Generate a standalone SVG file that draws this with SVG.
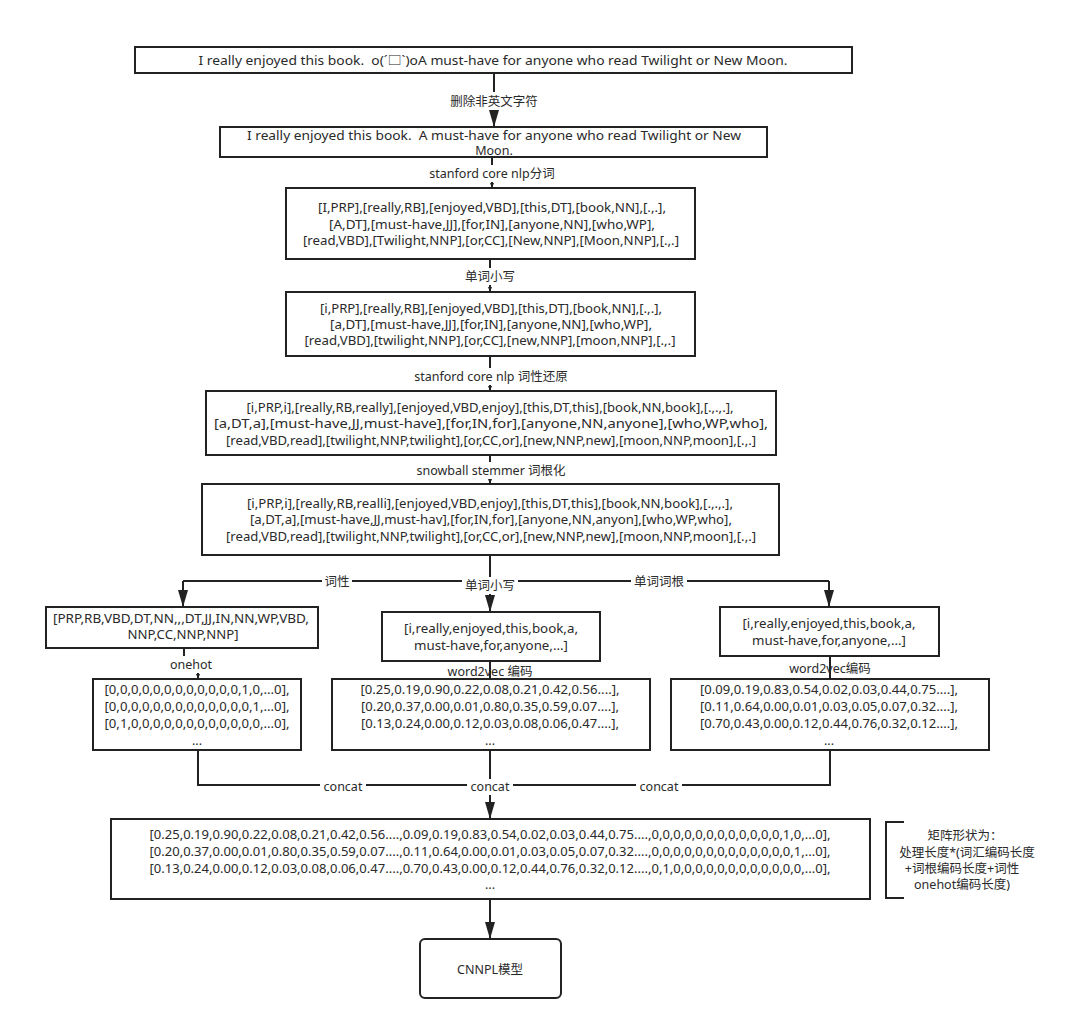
<svg xmlns="http://www.w3.org/2000/svg" width="1079" height="1031" viewBox="0 0 1079 1031">
<style>
.b{fill:#fff;stroke:#222;stroke-width:2}
.t{font-family:"Noto Sans","Noto Sans CJK SC",sans-serif;font-size:12.5px;fill:#2a2a2a;text-anchor:middle;white-space:pre}
.l{fill:#fff}
.c{fill:none;stroke:#222;stroke-width:2}
.n{font-family:"Noto Sans","Noto Sans CJK SC",sans-serif;font-size:12.5px;fill:#2a2a2a;text-anchor:middle}
</style>
<defs>
<marker id="a" viewBox="0 0 17 10" refX="17" refY="5" markerWidth="17" markerHeight="10" markerUnits="userSpaceOnUse" orient="auto"><path d="M0,0L17,5L0,10z" fill="#222"/></marker>
<marker id="s" viewBox="0 0 5 4" refX="5" refY="2" markerWidth="5" markerHeight="4" markerUnits="userSpaceOnUse" orient="auto"><path d="M0,0L5,2L0,4z" fill="#222"/></marker>
</defs>
<rect width="1079" height="1031" fill="#fff"/>
<g id="connectors">
<path class="c" d="M494,73V127" marker-end="url(#a)"/>
<path class="c" d="M492,157V188" marker-end="url(#s)"/>
<path class="c" d="M490,259V292" marker-end="url(#s)"/>
<path class="c" d="M490,356V391" marker-end="url(#s)"/>
<path class="c" d="M490,455V484" marker-end="url(#s)"/>
<path class="c" d="M490,555V581M183,581H829"/>
<path class="c" d="M183,581V607" marker-end="url(#a)"/>
<path class="c" d="M490,581V612" marker-end="url(#a)"/>
<path class="c" d="M829,581V607" marker-end="url(#a)"/>
<path class="c" d="M184,648V664H198V679" marker-end="url(#s)"/>
<path class="c" d="M490,661V679"/>
<path class="c" d="M830,656V679"/>
<path class="c" d="M198,750V785H830V750M490,750V819" marker-end="url(#a)"/>
<path class="c" d="M490,899V939" marker-end="url(#a)"/>
<path class="c" d="M904,822H886V898H904"/>
</g>
<g id="labels">
<rect class="l" x="444" y="92" width="100" height="18"/><text class="n" x="494" y="106">删除非英文字符</text>
<rect class="l" x="422" y="165" width="140" height="17"/><text class="n" x="492" y="178">stanford core nlp分词</text>
<rect class="l" x="462" y="268" width="56" height="17"/><text class="n" x="490" y="281">单词小写</text>
<rect class="l" x="406" y="368" width="170" height="17"/><text class="n" x="491" y="381">stanford core nlp 词性还原</text>
<rect class="l" x="412" y="462" width="158" height="17"/><text class="n" x="491" y="475">snowball stemmer 词根化</text>
<rect class="l" x="322" y="573" width="30" height="17"/><text class="n" x="337" y="586">词性</text>
<rect class="l" x="462" y="577" width="56" height="17"/><text class="n" x="490" y="590">单词小写</text>
<rect class="l" x="631" y="573" width="56" height="17"/><text class="n" x="659" y="586">单词词根</text>
<rect class="l" x="165" y="656" width="52" height="17"/><text class="n" x="191" y="669">onehot</text>
<text class="n" x="490" y="676">word2vec 编码</text>
<text class="n" x="830" y="673">word2vec编码</text>
<rect class="l" x="320" y="779" width="46" height="16"/><text class="n" x="343" y="791">concat</text>
<rect class="l" x="467" y="779" width="46" height="16"/><text class="n" x="490" y="791">concat</text>
<rect class="l" x="636" y="779" width="46" height="16"/><text class="n" x="659" y="791">concat</text>
</g>
<g id="n1"><rect class="b" x="135" y="47" width="717" height="26"/><text class="t" x="493" y="65" textLength="589" lengthAdjust="spacingAndGlyphs" xml:space="preserve">I really enjoyed this book.  o(ˊ□ˋ)oA must-have for anyone who read Twilight or New Moon.</text></g>
<g id="n2"><rect class="b" x="220" y="127" width="547" height="30"/><text class="t" x="494" y="140" textLength="494" lengthAdjust="spacingAndGlyphs" xml:space="preserve">I really enjoyed this book.  A must-have for anyone who read Twilight or New</text><text class="t" x="494" y="155">Moon.</text></g>
<g id="n3"><rect class="b" x="286" y="188" width="409" height="71"/>
<text class="t" x="492" y="212" textLength="348" lengthAdjust="spacingAndGlyphs">[I,PRP],[really,RB],[enjoyed,VBD],[this,DT],[book,NN],[.,.],</text>
<text class="t" x="492" y="229" textLength="326" lengthAdjust="spacingAndGlyphs">[A,DT],[must-have,JJ],[for,IN],[anyone,NN],[who,WP],</text>
<text class="t" x="491" y="245" textLength="376" lengthAdjust="spacingAndGlyphs">[read,VBD],[Twilight,NNP],[or,CC],[New,NNP],[Moon,NNP],[.,.]</text></g>
<g id="n4"><rect class="b" x="286" y="292" width="409" height="64"/>
<text class="t" x="491" y="313" textLength="342" lengthAdjust="spacingAndGlyphs">[i,PRP],[really,RB],[enjoyed,VBD],[this,DT],[book,NN],[.,.],</text>
<text class="t" x="491" y="329" textLength="322" lengthAdjust="spacingAndGlyphs">[a,DT],[must-have,JJ],[for,IN],[anyone,NN],[who,WP],</text>
<text class="t" x="490" y="345" textLength="371" lengthAdjust="spacingAndGlyphs">[read,VBD],[twilight,NNP],[or,CC],[new,NNP],[moon,NNP],[.,.]</text></g>
<g id="n5"><rect class="b" x="206" y="391" width="570" height="64"/>
<text class="t" x="490" y="412" textLength="487" lengthAdjust="spacingAndGlyphs">[i,PRP,i],[really,RB,really],[enjoyed,VBD,enjoy],[this,DT,this],[book,NN,book],[.,.,.],</text>
<text class="t" x="491" y="428" textLength="554" lengthAdjust="spacingAndGlyphs">[a,DT,a],[must-have,JJ,must-have],[for,IN,for],[anyone,NN,anyone],[who,WP,who],</text>
<text class="t" x="491" y="445" textLength="530" lengthAdjust="spacingAndGlyphs">[read,VBD,read],[twilight,NNP,twilight],[or,CC,or],[new,NNP,new],[moon,NNP,moon],[.,.]</text></g>
<g id="n6"><rect class="b" x="202" y="484" width="577" height="71"/>
<text class="t" x="490" y="508" textLength="486" lengthAdjust="spacingAndGlyphs">[i,PRP,i],[really,RB,realli],[enjoyed,VBD,enjoy],[this,DT,this],[book,NN,book],[.,.,.],</text>
<text class="t" x="491" y="524" textLength="482" lengthAdjust="spacingAndGlyphs">[a,DT,a],[must-have,JJ,must-hav],[for,IN,for],[anyone,NN,anyon],[who,WP,who],</text>
<text class="t" x="491" y="541" textLength="530" lengthAdjust="spacingAndGlyphs">[read,VBD,read],[twilight,NNP,twilight],[or,CC,or],[new,NNP,new],[moon,NNP,moon],[.,.]</text></g>
<g id="nA"><rect class="b" x="46" y="607" width="272" height="41"/>
<text class="t" x="181" y="623" textLength="256" lengthAdjust="spacingAndGlyphs">[PRP,RB,VBD,DT,NN,,,DT,JJ,IN,NN,WP,VBD,</text>
<text class="t" x="183" y="639" textLength="111" lengthAdjust="spacingAndGlyphs">NNP,CC,NNP,NNP]</text></g>
<g id="nB"><rect class="b" x="382" y="612" width="218" height="49"/>
<text class="t" x="491" y="633" textLength="174" lengthAdjust="spacingAndGlyphs">[i,really,enjoyed,this,book,a,</text>
<text class="t" x="491" y="650" textLength="154" lengthAdjust="spacingAndGlyphs">must-have,for,anyone,...]</text></g>
<g id="nC"><rect class="b" x="720" y="607" width="219" height="49"/>
<text class="t" x="829" y="628" textLength="173" lengthAdjust="spacingAndGlyphs">[i,really,enjoyed,this,book,a,</text>
<text class="t" x="829" y="645" textLength="154" lengthAdjust="spacingAndGlyphs">must-have,for,anyone,...]</text></g>
<g id="nD"><rect class="b" x="93" y="679" width="208" height="71"/>
<text class="t" x="197" y="694" textLength="185" lengthAdjust="spacingAndGlyphs">[0,0,0,0,0,0,0,0,0,0,0,0,1,0,...0],</text>
<text class="t" x="197" y="711" textLength="185" lengthAdjust="spacingAndGlyphs">[0,0,0,0,0,0,0,0,0,0,0,0,0,1,...0],</text>
<text class="t" x="197" y="728" textLength="185" lengthAdjust="spacingAndGlyphs">[0,1,0,0,0,0,0,0,0,0,0,0,0,0,...0],</text>
<text class="t" x="197" y="745">...</text></g>
<g id="nE"><rect class="b" x="332" y="679" width="318" height="71"/>
<text class="t" x="490" y="694" textLength="259" lengthAdjust="spacingAndGlyphs">[0.25,0.19,0.90,0.22,0.08,0.21,0.42,0.56....],</text>
<text class="t" x="490" y="711" textLength="258" lengthAdjust="spacingAndGlyphs">[0.20,0.37,0.00,0.01,0.80,0.35,0.59,0.07....],</text>
<text class="t" x="490" y="728" textLength="258" lengthAdjust="spacingAndGlyphs">[0.13,0.24,0.00,0.12,0.03,0.08,0.06,0.47....],</text>
<text class="t" x="490" y="745">...</text></g>
<g id="nF"><rect class="b" x="671" y="679" width="318" height="71"/>
<text class="t" x="829" y="694" textLength="258" lengthAdjust="spacingAndGlyphs">[0.09,0.19,0.83,0.54,0.02,0.03,0.44,0.75....],</text>
<text class="t" x="829" y="711" textLength="258" lengthAdjust="spacingAndGlyphs">[0.11,0.64,0.00,0.01,0.03,0.05,0.07,0.32....],</text>
<text class="t" x="829" y="728" textLength="258" lengthAdjust="spacingAndGlyphs">[0.70,0.43,0.00,0.12,0.44,0.76,0.32,0.12....],</text>
<text class="t" x="829" y="745">...</text></g>
<g id="nG"><rect class="b" x="111" y="819" width="759" height="80"/>
<text class="t" x="490" y="839" textLength="681" lengthAdjust="spacingAndGlyphs">[0.25,0.19,0.90,0.22,0.08,0.21,0.42,0.56....,0.09,0.19,0.83,0.54,0.02,0.03,0.44,0.75....,0,0,0,0,0,0,0,0,0,0,0,0,1,0,...0],</text>
<text class="t" x="490" y="856" textLength="681" lengthAdjust="spacingAndGlyphs">[0.20,0.37,0.00,0.01,0.80,0.35,0.59,0.07....,0.11,0.64,0.00,0.01,0.03,0.05,0.07,0.32....,0,0,0,0,0,0,0,0,0,0,0,0,0,1,...0],</text>
<text class="t" x="490" y="873" textLength="681" lengthAdjust="spacingAndGlyphs">[0.13,0.24,0.00,0.12,0.03,0.08,0.06,0.47....,0.70,0.43,0.00,0.12,0.44,0.76,0.32,0.12....,0,1,0,0,0,0,0,0,0,0,0,0,0,0,...0],</text>
<text class="t" x="490" y="889">...</text></g>
<g id="nH"><rect class="b" x="420" y="939" width="141" height="59" rx="5"/>
<text class="t" x="490" y="974">CNNPL模型</text></g>
<g id="nI">
<text class="t" x="965" y="840">矩阵形状为：</text>
<text class="t" x="967" y="857">处理长度*(词汇编码长度</text>
<text class="t" x="962" y="873">+词根编码长度+词性</text>
<text class="t" x="962" y="889">onehot编码长度)</text></g>
</svg>
